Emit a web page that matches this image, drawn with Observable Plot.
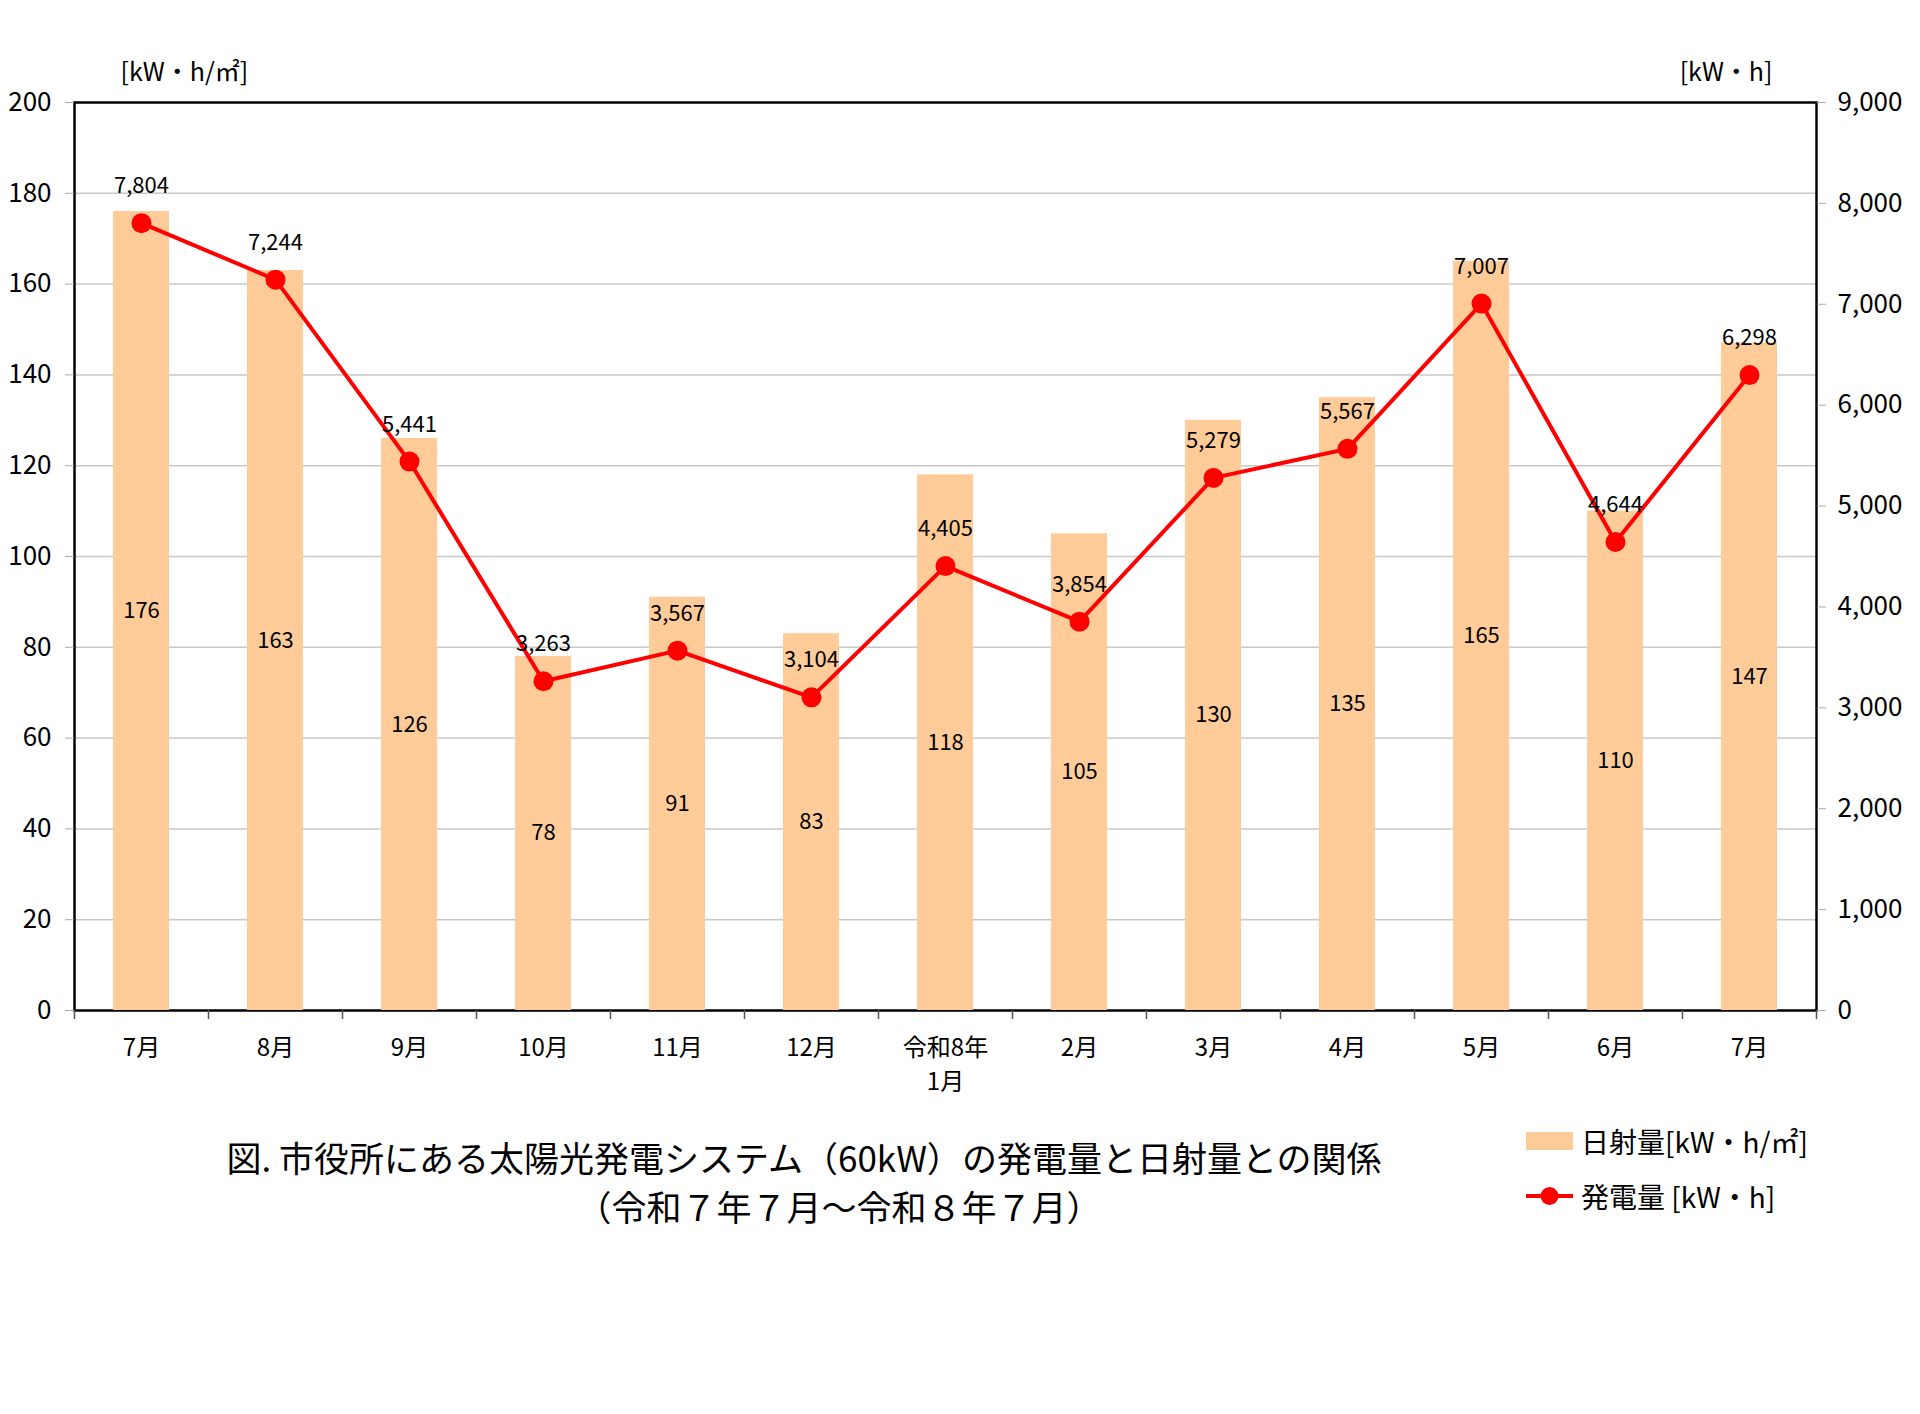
<!DOCTYPE html>
<html><head><meta charset="utf-8">
<script src="https://cdn.jsdelivr.net/npm/d3@7"></script>
<script src="https://cdn.jsdelivr.net/npm/@observablehq/plot@0.6"></script>
<style>
body{margin:0;background:#fff;font-family:"Noto Sans CJK JP",sans-serif;color:#000;}
#wrap{position:relative;width:1920px;height:1414px;overflow:hidden;}
#title{position:absolute;left:0;width:1608px;top:1132px;text-align:center;font-size:35px;line-height:49px;}
#title .l2{display:inline-block;padding-left:70px;}
#legend{position:absolute;left:1526px;top:1113px;font-size:28px;}
.row{display:flex;align-items:center;height:55px;}
.sw{width:47px;height:18px;background:#FFCC99;margin-right:8px;}
</style></head>
<body><div id="wrap"><div id="chart"></div>
<div id="title">図. 市役所にある太陽光発電システム（60kW）の発電量と日射量との関係<br><span class="l2">（令和７年７月～令和８年７月）</span></div>
<div id="legend">
<div class="row"><div class="sw"></div><span>日射量[kW・h/㎡]</span></div>
<div class="row"><svg width="55" height="24" style="margin-right:0"><line x1="0" x2="47" y1="12" y2="12" stroke="#FF0000" stroke-width="4"/><circle cx="23.5" cy="12" r="9" fill="#FF0000"/></svg><span>発電量 [kW・h]</span></div>
</div>
</div>
<script>
const months = ["2025-07","2025-08","2025-09","2025-10","2025-11","2025-12","2026-01","2026-02","2026-03","2026-04","2026-05","2026-06","2026-07"];
const tickLabels = ["7月","8月","9月","10月","11月","12月","令和8年\n1月","2月","3月","4月","5月","6月","7月"];
const solar = [176,163,126,78,91,83,118,105,130,135,165,110,147];
const generation = [7804,7244,5441,3263,3567,3104,4405,3854,5279,5567,7007,4644,6298];
const leftTicks = [0,20,40,60,80,100,120,140,160,180,200];
const rightTicks = [0,1000,2000,3000,4000,5000,6000,7000,8000,9000];
const leftUnit = "[kW・h/㎡]";
const rightUnit = "[kW・h]";

const ratio = 9000 / 200;
const data = months.map((m, i) => ({month: m, label: tickLabels[i], solar: solar[i], gen: generation[i]}));
const labelOf = Object.fromEntries(data.map(d => [d.month, d.label]));

const W = 1920, H = 1110, mL = 74, mR = 104, mT = 102, mB = 100;
const step = (W - mL - mR) / months.length;
const fmt = d3.format(",");

const chart = Plot.plot({
  width: W, height: H, marginLeft: mL, marginRight: mR, marginTop: mT, marginBottom: mB,
  style: {fontFamily: '"Noto Sans CJK JP", sans-serif', fontSize: "24px", color: "#000", background: "#fff"},
  x: {type: "band", domain: months, paddingInner: 0.58, paddingOuter: 0.29},
  y: {domain: [0, 200]},
  marks: [
    Plot.gridY(leftTicks.filter(v => v > 0 && v < 200), {stroke: "#c8c8c8", strokeOpacity: 1, strokeWidth: 1.5}),
    Plot.frame({stroke: "#000", strokeWidth: 2.5}),
    Plot.barY(data, {x: "month", y: "solar", fill: "#FFCC99"}),
    Plot.ruleX(data, {x: "month", y1: 0, y2: 0, insetBottom: -9, dx: -step / 2, stroke: "#555", strokeWidth: 1.5}),
    Plot.ruleX(data.slice(-1), {x: "month", y1: 0, y2: 0, insetBottom: -9, dx: step / 2, stroke: "#555", strokeWidth: 1.5}),
    Plot.text(data, {x: "month", y: d => d.solar / 2, text: d => String(d.solar), fontSize: 22, fill: "#000"}),
    Plot.line(data, {x: "month", y: d => d.gen / ratio, stroke: "#FF0000", strokeWidth: 4}),
    Plot.dot(data, {x: "month", y: d => d.gen / ratio, r: 10, fill: "#FF0000"}),
    Plot.text(data, {x: "month", y: d => d.gen / ratio, dy: -37, text: d => fmt(d.gen), fontSize: 22, fill: "#000"}),
    Plot.axisY(leftTicks, {anchor: "left", tickSize: 9, tickPadding: 14, stroke: "#aaa", fontSize: 26, label: null}),
    Plot.axisY(rightTicks.map(v => v / ratio), {anchor: "right", tickSize: 9, tickPadding: 12, stroke: "#aaa", fontSize: 26, label: null,
      tickFormat: d => fmt(Math.round(d * ratio))}),
    Plot.axisX({tickSize: 0, tickPadding: 22, fontSize: 24, lineHeight: 1.4, label: null, tickFormat: d => labelOf[d]}),
    Plot.text([leftUnit], {frameAnchor: "top-left", dx: 46, dy: -39, textAnchor: "start", fontSize: 25, fill: "#000"}),
    Plot.text([rightUnit], {frameAnchor: "top-right", dx: -44, dy: -39, textAnchor: "end", fontSize: 25, fill: "#000"})
  ]
});
document.getElementById("chart").append(chart);
</script>
</body></html>
